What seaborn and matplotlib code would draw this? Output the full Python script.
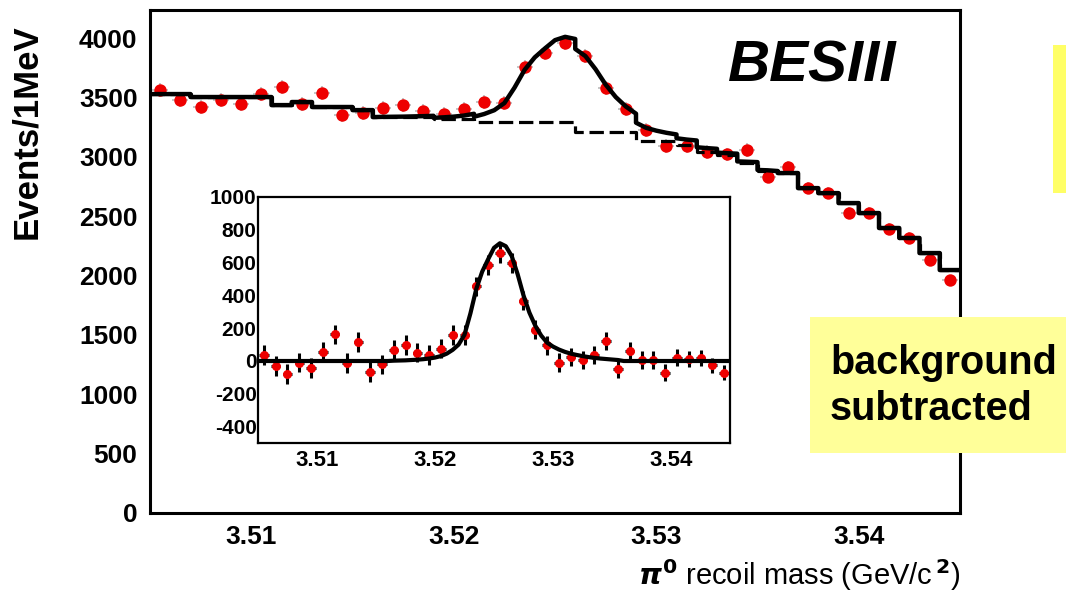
import matplotlib
matplotlib.use("Agg")
import matplotlib.pyplot as plt
from matplotlib.patches import Rectangle
from matplotlib.ticker import MultipleLocator
import numpy as np
import seaborn as sns

# pi0 recoil mass, 1 MeV bins between 3.505 and 3.545 GeV/c^2
mass = np.round(3.5055 + 0.001 * np.arange(40), 4)

events = [3562, 3477, 3419, 3477, 3444, 3528, 3587, 3444, 3536, 3351,
          3368, 3410, 3435, 3385, 3360, 3402, 3461, 3452, 3755, 3873,
          3957, 3848, 3579, 3402, 3225, 3090, 3090, 3040, 3023, 3057,
          2829, 2913, 2736, 2694, 2526, 2526, 2391, 2316, 2130, 1962]

background = [3528, 3528, 3503, 3503, 3503, 3503, 3435, 3461, 3419, 3419,
              3393, 3334, 3334, 3334, 3317, 3317, 3292, 3292, 3292, 3292,
              3292, 3208, 3208, 3208, 3132, 3132, 3100, 3043, 3011, 2946,
              2880, 2863, 2736, 2694, 2610, 2526, 2400, 2316, 2189, 2046]

# background subtracted spectrum (inset)
subtracted = [36, -30, -81, -10, -44, 57, 162, -14, 117, -67,
              -20, 67, 97, 51, 36, 75, 158, 158, 455, 586,
              661, 600, 368, 192, 95, -10, 26, 6, 34, 121,
              -50, 61, 6, 6, -71, 20, 14, 20, -26, -71]
sub_err = [60, 60, 60, 60, 60, 60, 60, 60, 60, 59,
           59, 59, 59, 59, 59, 59, 59, 59, 60, 61,
           62, 61, 60, 58, 57, 56, 56, 55, 55, 55,
           54, 54, 53, 52, 51, 51, 50, 49, 47, 46]

# signal shape read every 0.5 MeV, from 3.5165 to 3.5355
sig_start = 3.5165
signal = [2, 3, 4, 6, 8, 11, 15, 21, 30, 45,
          68, 100, 160, 290, 440, 545, 620, 690, 718, 700,
          640, 530, 400, 295, 215, 155, 112, 88, 70, 56,
          45, 37, 30, 24, 19, 15, 12, 9, 6]

xticks = [3.51, 3.52, 3.53, 3.54]
xtick_labels = ["3.51", "3.52", "3.53", "3.54"]

# half-MeV grid over the whole range, signal is zero outside the read part
grid = np.round(3.505 + 0.0005 * np.arange(81), 4)
sig_full = np.zeros(81)
i0 = int(round((sig_start - 3.505) / 0.0005))
sig_full[i0:i0 + len(signal)] = signal

bg_x, bg_y, tot_x, tot_y = [], [], [], []
for i, b in enumerate(background):
    bg_x += [grid[2 * i], grid[2 * i + 2]]
    bg_y += [b, b]
    for k in (2 * i, 2 * i + 1, 2 * i + 2):
        tot_x.append(grid[k])
        tot_y.append(b + sig_full[k])

sns.set_theme(style="white")
plt.rcParams["font.family"] = ["Liberation Sans", "DejaVu Sans"]
plt.rcParams["font.weight"] = "bold"
plt.rcParams["axes.unicode_minus"] = False
for key in ("text.color", "axes.labelcolor", "xtick.color", "ytick.color",
            "axes.edgecolor"):
    plt.rcParams[key] = "black"

fig = plt.figure(figsize=(10.66, 6.16), dpi=100)
W, H = 1066, 616
ax = fig.add_axes([150 / W, 1 - 513 / H, 810 / W, 503 / H])

ax.errorbar(mass, events, xerr=0.0004, yerr=sub_err, fmt="none",
            ecolor="#bbbbbb", elinewidth=1.2, zorder=2)
sns.scatterplot(x=mass, y=events, color="#ee0000", s=80, linewidth=0,
                ax=ax, zorder=3)
sns.lineplot(x=bg_x, y=bg_y, estimator=None, sort=False, color="black",
             lw=2.3, ax=ax, zorder=4)
ax.lines[-1].set_dashes((4.5, 1.8))
sns.lineplot(x=tot_x, y=tot_y, estimator=None, sort=False, color="black",
             lw=3.2, ax=ax, zorder=5)

ax.set_xlim(3.505, 3.545)
ax.set_ylim(0, 4236)
ax.set_xticks(xticks)
ax.set_xticklabels(xtick_labels)
ax.xaxis.set_minor_locator(MultipleLocator(0.002))
ax.set_yticks(range(0, 4001, 500))
ax.yaxis.set_minor_locator(MultipleLocator(100))
ax.tick_params(which="both", direction="in", top=False, right=False,
               colors="black")
ax.tick_params(which="major", length=9, width=1.5, labelsize=19)
ax.tick_params(which="minor", length=3, width=1.2)
ax.tick_params(axis="y", pad=9)
ax.tick_params(axis="x", pad=9)
ax.set_xlabel("")
ax.set_ylabel("")
for s in ax.spines.values():
    s.set_linewidth(2.2)
    s.set_color("black")

# inset: background subtracted
ins = fig.add_axes([258 / W, 1 - 443 / H, 472 / W, 246 / H])
ins.set_facecolor("white")
ins.errorbar(mass, subtracted, xerr=0.0004, yerr=sub_err, fmt="none",
             ecolor="black", elinewidth=2.2, zorder=2)
sns.scatterplot(x=mass, y=subtracted, color="#ee0000", s=42, linewidth=0,
                ax=ins, zorder=3)
sns.lineplot(x=grid, y=sig_full, estimator=None, sort=False, color="black",
             lw=3.0, ax=ins, zorder=4)
ins.set_xlim(3.505, 3.545)
ins.set_ylim(-500, 1000)
ins.set_xticks(xticks)
ins.set_xticklabels(xtick_labels)
ins.xaxis.set_minor_locator(MultipleLocator(0.002))
ins.set_yticks(range(-400, 1001, 200))
ins.yaxis.set_minor_locator(MultipleLocator(50))
ins.tick_params(which="both", direction="in", top=False, right=False,
                colors="black")
ins.tick_params(which="major", length=6, width=1.3)
ins.tick_params(which="minor", length=2.5, width=1.0)
ins.tick_params(axis="x", labelsize=16, pad=5)
ins.tick_params(axis="y", labelsize=15, pad=1)
ins.set_xlabel("")
ins.set_ylabel("")
for s in ins.spines.values():
    s.set_linewidth(1.6)
    s.set_color("black")

fig.text(27 / W, 1 - 132 / H, "Events/1MeV", rotation=90, fontsize=25,
         ha="center", va="center")
fig.text(960 / W, 1 - 575 / H, r"$\pi^{0}$ recoil mass (GeV/c$^{\,2}$)",
         fontsize=21, fontweight="normal", ha="right", va="center")
fig.text(812 / W, 1 - 67 / H, "BESIII", fontsize=42, fontweight="bold",
         fontstyle="italic", ha="center", va="center")

fig.add_artist(Rectangle((1053 / W, 1 - 193 / H), 0.03, 148 / H,
                         transform=fig.transFigure, facecolor="#ffff66",
                         edgecolor="none", zorder=5))
fig.add_artist(Rectangle((810 / W, 1 - 453 / H), 0.25, 136 / H,
                         transform=fig.transFigure, facecolor="#ffff99",
                         edgecolor="none", zorder=5))
fig.text(830 / W, 1 - 386 / H, "background\nsubtracted", fontsize=28.5,
         fontweight="bold", ha="left", va="center", linespacing=1.3,
         zorder=6)

fig.savefig("out.png", dpi=100)
